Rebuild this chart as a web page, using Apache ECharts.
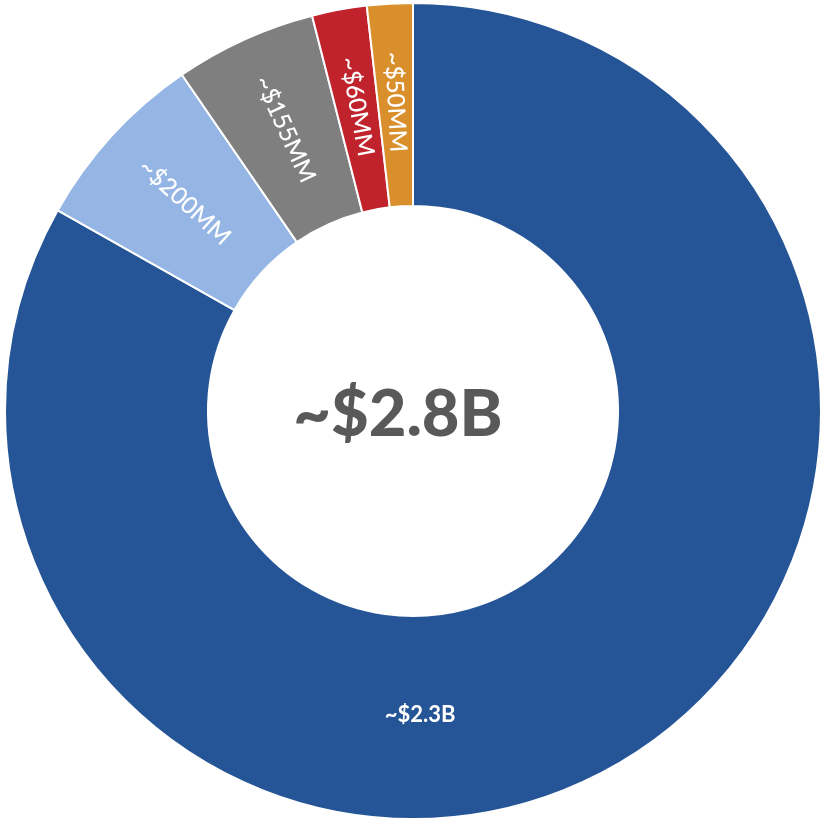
<!DOCTYPE html>
<html>
<head>
<meta charset="utf-8">
<script src="https://cdn.jsdelivr.net/npm/echarts@6/dist/echarts.min.js"></script>
<style>
  html, body { margin: 0; padding: 0; background: #fff; }
  #chart { width: 822px; height: 822px; }
</style>
</head>
<body>
<div id="chart"></div>
<script>
var labels = ["~$2.3B", "~$200MM", "~$155MM", "~$60MM", "~$50MM"];
var values = [2300, 200, 155, 60, 50];
var colors = ["#255597", "#95b6e5", "#7f7f7f", "#c0232b", "#d98f2c"];
var centerText = "~$2.8B";

var data = values.map(function (v, i) {
    var d = {
        name: labels[i],
        value: v,
        itemStyle: { color: colors[i] }
    };
    // big slice label sits straight below the hole in the original
    if (i === 0) d.label = { rotate: 0, fontWeight: "bold", fontSize: 22, offset: [-149, 37] };
    return d;
});

var chart = echarts.init(document.getElementById("chart"));
chart.setOption({
    animation: false,
    graphic: [
        {
            type: "text",
            x: 398,
            y: 415,
            style: {
                text: centerText,
                font: "900 65px Lato, sans-serif",
                fill: "#595959",
                align: "center",
                verticalAlign: "middle"
            }
        }
    ],
    series: [
        {
            type: "pie",
            center: [413, 411],
            radius: [205, 408],
            startAngle: 90,
            clockwise: true,
            itemStyle: { borderColor: "#fff", borderWidth: 2 },
            label: {
                show: true,
                position: "inside",
                rotate: "radial",
                formatter: "{b}",
                color: "#fff",
                fontSize: 24,
                fontWeight: 500,
                fontFamily: "Lato"
            },
            labelLine: { show: false },
            data: data
        }
    ]
});
</script>
</body>
</html>
